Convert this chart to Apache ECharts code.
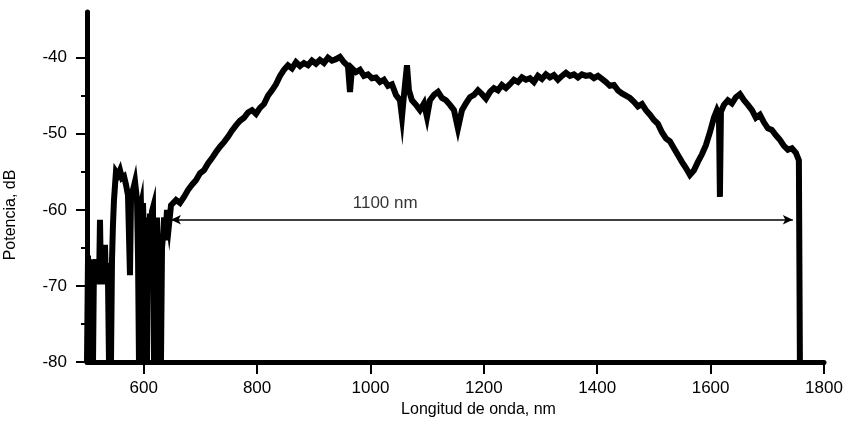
<!DOCTYPE html>
<html>
<head>
<meta charset="utf-8">
<script src="https://cdn.jsdelivr.net/npm/echarts@6/dist/echarts.min.js"></script>
<style>
  html, body { margin: 0; padding: 0; background: #fff; }
  #main { width: 845px; height: 423px; }
</style>
</head>
<body>
<div id="main"></div>
<script>
// espectro: longitud de onda (nm) y potencia (dB)
var wl = [500.0,501.8,503.5,505.3,507.1,508.8,510.6,512.3,514.1,515.9,517.6,519.4,521.2,522.9,524.7,526.4,528.2,530.0,
  531.7,533.5,535.3,537.0,538.8,540.5,542.3,544.1,545.8,
  547.6,551.1,554.7,558.2,561.7,565.3,568.8,572.3,575.8,577.6,581.1,584.7,588.2,590.0,591.7,593.5,595.2,597.0,598.8,
  600.5,602.3,604.1,605.8,607.6,609.3,611.1,612.9,614.6,616.4,618.2,619.9,621.7,623.4,625.2,627.0,628.8,630.5,632.3,
  634.0,636.0,638.0,641.1,644.6,648.2,
  649.9,657.0,664.0,671.1,678.1,685.2,692.2,699.3,706.4,713.4,720.5,727.6,734.6,741.6,748.7,755.7,762.8,769.8,776.9,784.0,
  791.0,798.1,805.1,812.2,819.2,826.3,833.3,840.4,847.4,854.5,861.6,868.6,875.7,882.7,889.8,896.8,903.9,910.9,918.0,925.0,
  932.1,939.2,946.2,953.3,960.3,963.9,967.4,974.4,981.5,988.5,995.6,1002.6,1009.7,1016.8,1023.8,1030.9,1037.9,1045.0,1052.0,
  1055.6,1059.1,1064.4,1067.9,1073.2,1080.3,1087.3,1094.4,1099.7,1105.0,1112.0,1119.1,1126.1,1133.2,1140.2,1147.3,1154.3,
  1161.4,1168.4,1175.5,1182.6,1189.6,1196.7,1203.7,1210.8,1217.8,1224.9,1231.9,1239.0,1246.0,1253.1,1260.2,1267.2,1274.3,
  1281.3,1288.4,1295.4,1302.5,1309.5,1316.6,1323.6,1330.7,1337.8,1344.8,1351.9,1358.9,1366.0,1373.0,1380.1,1387.1,1394.2,
  1401.3,1408.3,1415.4,1422.4,1429.5,1436.5,1443.6,1450.6,1457.7,1464.7,1471.8,1478.9,1485.9,1493.0,1500.0,1507.1,1514.1,
  1521.2,1528.2,1535.3,1542.3,1549.4,1556.5,1563.5,1570.6,1577.6,1584.7,1591.7,1598.8,1605.8,1611.1,1614.7,1616.4,1618.2,
  1623.5,1630.5,1637.6,1644.6,1651.7,1658.8,1665.8,1672.9,1679.9,1687.0,1694.0,1701.1,1708.1,1715.2,1722.2,1729.3,1736.3,
  1743.4,1750.4,1755.7,1757.5];
var pw = [-80,-66,-80,-67,-80,-66.5,-80,-67,-68,-66.5,-69.5,-66.8,-69.8,-61.3,-69.5,-66.5,-69.8,-66.8,
  -64.6,-69.5,-67,-69,-80,-67,-80,-66.6,-62,
  -58.7,-55.0,-55.4,-54.8,-55.8,-55.6,-56.7,-58.1,-68.6,-58.5,-57.4,-56.3,-58.7,-66.2,-80,-60,-59.4,-66,-59.1,
  -64,-80,-61,-80,-62,-65,-60.5,-66,-60.2,-59.7,-80,-63,-66,-61,-80,-64.5,-63.3,-80,-65,
  -63.5,-61,-64,-60,-62,-59.4,
  -59.4,-58.7,-59.1,-58.3,-57.4,-56.7,-56.1,-55.2,-54.8,-53.9,-53.2,-52.4,-51.7,-51.1,-50.4,-49.6,-48.9,-48.3,-47.9,-47.2,
  -46.9,-47.4,-46.6,-46.1,-45.0,-44.3,-43.5,-42.4,-41.6,-41.0,-41.4,-40.6,-41.1,-40.7,-41.0,-40.4,-40.8,-40.3,-40.7,-40.0,
  -40.4,-40.2,-39.9,-40.6,-41.1,-44.5,-41.4,-41.9,-41.6,-42.4,-42.2,-42.7,-42.6,-43.2,-42.9,-43.7,-43.5,-44.9,-45.6,
  -47.8,-44.9,-41.0,-44.3,-45.6,-46.2,-46.9,-46.0,-47.8,-45.6,-44.9,-44.5,-45.3,-45.6,-46.2,-46.9,-49.3,
  -46.9,-46.0,-45.2,-44.9,-44.3,-44.8,-45.4,-44.5,-44.0,-44.3,-43.6,-44.0,-43.5,-42.9,-43.2,-42.6,-42.9,
  -42.7,-43.2,-42.4,-42.8,-42.2,-42.6,-42.3,-42.9,-42.4,-42.0,-42.4,-42.2,-42.6,-42.2,-42.4,-42.3,-42.7,
  -42.4,-42.8,-43.2,-43.7,-43.6,-44.3,-44.7,-45.0,-45.3,-45.8,-46.4,-46.1,-46.9,-47.5,-48.2,-48.7,-49.8,
  -50.6,-51.0,-51.9,-52.8,-53.7,-54.5,-55.4,-54.8,-53.7,-52.7,-51.5,-49.8,-47.9,-46.9,-47.5,-58.3,-47.1,
  -46.2,-45.6,-46.0,-45.2,-44.8,-45.6,-46.2,-46.9,-47.9,-47.5,-48.5,-49.3,-49.5,-50.2,-50.8,-51.6,-52.1,
  -51.9,-52.5,-53.5,-80];

var xTicks = [600, 800, 1000, 1200, 1400, 1600, 1800];
var yTicks = [-80, -70, -60, -50, -40];
var yMinor = [-75, -65, -55, -45];
var span = [648, 1745];     // extremos de la flecha, nm
var spanLevel = -61.3;      // dB
var spanText = '1100 nm';
var spanTextPos = [1026, -59.1];

var chart = echarts.init(document.getElementById('main'));
var curve = wl.map(function (x, i) { return [x, pw[i]]; });
var font = 'Liberation Sans, Arial, sans-serif';

chart.setOption({
  animation: false,
  grid: { left: 87, right: 21, top: 12, bottom: 61, outerBoundsMode: 'none' },
  xAxis: {
    type: 'value', min: 500, max: 1800,
    name: 'Longitud de onda, nm', nameLocation: 'middle', nameGap: 40,
    nameTextStyle: { color: '#000', fontFamily: font, fontSize: 16, padding: [0, 0, 0, 46] },
    axisLine: { lineStyle: { color: '#000', width: 5 } },
    axisTick: { customValues: xTicks, length: 12, lineStyle: { color: '#000', width: 2 } },
    axisLabel: {
      customValues: xTicks, color: '#000', fontFamily: font, fontSize: 17, margin: 18,
      formatter: function (v) { return String(v); }
    },
    splitLine: { show: false }
  },
  yAxis: [{
    type: 'value', min: -80, max: -34,
    name: 'Potencia, dB', nameLocation: 'middle', nameGap: 68,
    nameTextStyle: { color: '#000', fontFamily: font, fontSize: 16, padding: [0, 56, 0, 0] },
    axisLine: { show: true, lineStyle: { color: '#000', width: 5 } },
    axisTick: { show: true, customValues: yTicks, length: 11, lineStyle: { color: '#000', width: 2 } },
    axisLabel: {
      customValues: yTicks, color: '#000', fontFamily: font, fontSize: 17, margin: 20,
      formatter: function (v) { return String(v); }
    },
    splitLine: { show: false }
  }, {
    type: 'value', min: -80, max: -34, position: 'left',
    axisLine: { show: false },
    axisTick: { show: true, customValues: yMinor, length: 6, lineStyle: { color: '#000', width: 2 } },
    axisLabel: { show: false },
    splitLine: { show: false }
  }],
  series: [{
    type: 'line',
    data: curve,
    showSymbol: false,
    lineStyle: { color: '#000', width: 6, join: 'miter' },
    markLine: {
      silent: true,
      symbol: ['arrow', 'arrow'],
      symbolSize: [7, 10],
      label: { show: false },
      lineStyle: { color: '#000', width: 1.5, type: 'solid' },
      data: [[{ coord: [span[0], spanLevel] }, { coord: [span[1], spanLevel] }]]
    }
  }, {
    type: 'scatter',
    data: [spanTextPos],
    symbolSize: 0,
    silent: true,
    label: {
      show: true, position: 'inside', formatter: spanText,
      color: '#000', fontFamily: font, fontSize: 17
    }
  }]
});
</script>
</body>
</html>
